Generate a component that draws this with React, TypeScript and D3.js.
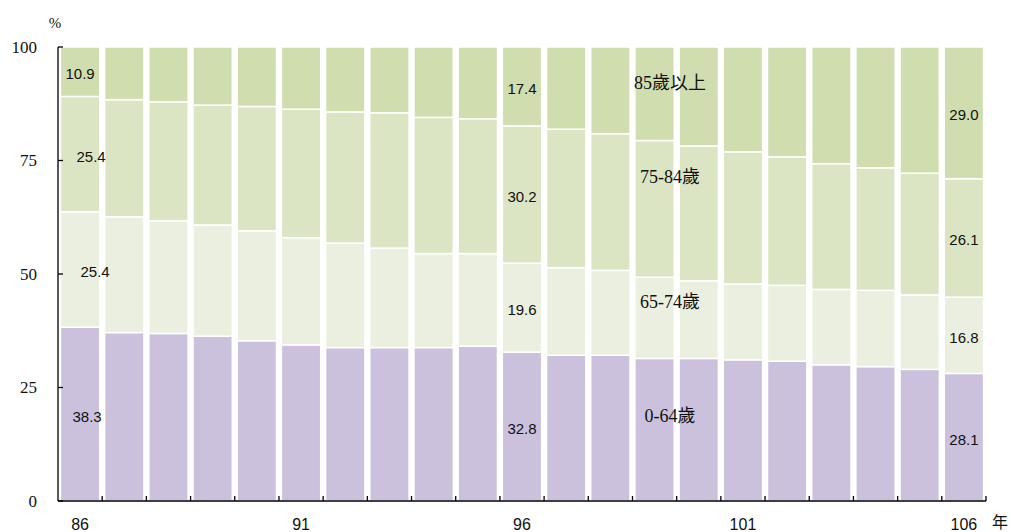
import * as d3 from 'd3';

const years = ['86', '87', '88', '89', '90', '91', '92', '93', '94', '95', '96', '97', '98', '99', '100', '101', '102', '103', '104', '105', '106'];
const tickYears = ['86', '91', '96', '101', '106'];
const yTicks = [0, 25, 50, 75, 100];

const age0to64 = [38.3, 37.1, 36.9, 36.3, 35.3, 34.4, 33.8, 33.8, 33.8, 34.1, 32.8, 32.1, 32.1, 31.4, 31.4, 31.1, 30.8, 30.0, 29.6, 29.0, 28.1];
const age65to74 = [25.4, 25.5, 24.8, 24.5, 24.2, 23.6, 23.0, 21.9, 20.7, 20.4, 19.6, 19.3, 18.7, 17.9, 17.1, 16.7, 16.7, 16.6, 16.8, 16.4, 16.8];
const age75to84 = [25.4, 25.8, 26.2, 26.4, 27.4, 28.3, 28.9, 29.8, 30.0, 29.7, 30.2, 30.5, 30.1, 30.1, 29.7, 29.1, 28.3, 27.7, 27.0, 26.8, 26.1];
const age85plus = [10.9, 11.6, 12.1, 12.8, 13.1, 13.7, 14.3, 14.5, 15.5, 15.8, 17.4, 18.1, 19.1, 20.6, 21.8, 23.1, 24.2, 25.7, 26.6, 27.8, 29.0];

const seriesKeys = ['a', 'b', 'c', 'd'];
const seriesNames = ['0-64歲', '65-74歲', '75-84歲', '85歲以上'];
const seriesColors = ['#cbc1dc', '#eaefdf', '#dbe5c4', '#cfddaf'];
const labelYears = ['86', '96', '106'];

const W = 1011;
const H = 532;
const serif = "'Liberation Serif', 'Noto Sans CJK TC', serif";
const sans = "'Liberation Sans', Arial, sans-serif";

// small horizontal nudges for the first bar's labels (as in the source)
const nudge: Record<string, number> = { '86-c': 11, '86-b': 15, '86-a': 7 };

export default function App() {
  const rows = years.map((y, i) => ({
    year: y,
    a: age0to64[i],
    b: age65to74[i],
    c: age75to84[i],
    d: age85plus[i],
  }));
  const stacked = d3.stack<any>().keys(seriesKeys)(rows);

  const x = d3.scaleBand<string>().domain(years).range([58, 986]).paddingInner(0.11).paddingOuter(0.055);
  const y = d3.scaleLinear().domain([0, 100]).range([501, 47]);
  const step = x.step();
  const gap = (step - x.bandwidth()) / 2;

  // where the category names sit (between bars 99 and 100)
  const nameX = (x('100') as number) - 9;
  const nameY = [18.7, 43.9, 71.4, 92.1];

  return (
    <svg width={W} height={H} style={{ position: 'absolute', left: 0, top: 0, background: '#fff' }}>
      {stacked.map((s, si) => (
        <g key={s.key}>
          {s.map((d, i) => (
            <rect
              key={i}
              x={x(years[i])}
              width={x.bandwidth()}
              y={y(d[1])}
              height={y(d[0]) - y(d[1])}
              fill={seriesColors[si]}
              stroke="#fff"
              strokeWidth={1.5}
            />
          ))}
        </g>
      ))}

      {/* value labels */}
      {stacked.map((s, si) =>
        s.map((d, i) => {
          if (!labelYears.includes(years[i])) return null;
          const cx = (x(years[i]) as number) + x.bandwidth() / 2 + (nudge[`${years[i]}-${s.key}`] || 0);
          const cy = (y(d[0]) + y(d[1])) / 2 + 2;
          return (
            <text key={`${si}-${i}`} x={cx} y={cy} textAnchor="middle" dominantBaseline="central" style={{ fontFamily: sans }} fontSize={15} fill="#111">
              {(d[1] - d[0]).toFixed(1)}
            </text>
          );
        })
      )}

      {/* series names */}
      {seriesNames.map((n, i) => (
        <text key={n} x={nameX} y={y(nameY[i])} textAnchor="middle" dominantBaseline="central" style={{ fontFamily: serif }} fontSize={18} fill="#111">
          {n}
        </text>
      ))}

      {/* y axis */}
      <line x1={58} x2={58} y1={y(100)} y2={y(0)} stroke="#000" strokeWidth={1.3} />
      {yTicks.map((t) => (
        <g key={t}>
          <line x1={58} x2={63} y1={y(t)} y2={y(t)} stroke="#000" strokeWidth={1.3} />
          <text x={37} y={y(t)} textAnchor="end" dominantBaseline="central" style={{ fontFamily: serif }} fontSize={17} fill="#111">
            {t}
          </text>
        </g>
      ))}
      <text x={55} y={23} textAnchor="middle" dominantBaseline="central" style={{ fontFamily: serif }} fontSize={15} fill="#111">%</text>

      {/* x axis */}
      <line x1={58} x2={986} y1={y(0)} y2={y(0)} stroke="#000" strokeWidth={1.3} />
      {years.map((yr) => {
        const tx = (x(yr) as number) - gap + step;
        return <line key={yr} x1={tx} x2={tx} y1={y(0)} y2={y(0) - 5} stroke="#000" strokeWidth={1.3} />;
      })}
      {tickYears.map((yr) => (
        <text key={yr} x={(x(yr) as number) + x.bandwidth() / 2} y={530} textAnchor="middle" style={{ fontFamily: sans }} fontSize={16} fill="#111">
          {yr}
        </text>
      ))}
      <text x={1000} y={528} textAnchor="middle" style={{ fontFamily: serif }} fontSize={16} fill="#111">年</text>
    </svg>
  );
}
